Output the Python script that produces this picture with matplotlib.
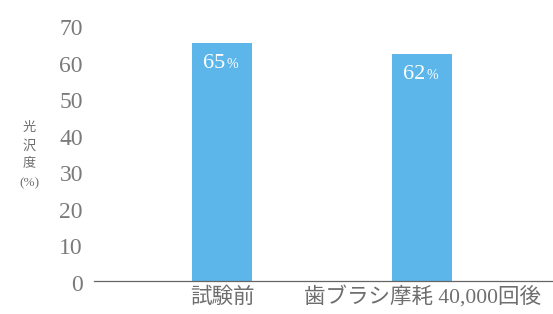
import matplotlib
matplotlib.use("Agg")
import matplotlib.pyplot as plt
import matplotlib.transforms as mtrans
import numpy as np

# data
categories = ["試験前", "歯ブラシ摩耗 40,000回後"]
gloss = [65, 62]
yticks = [0, 10, 20, 30, 40, 50, 60, 70]

fonts = ["Liberation Serif", "Noto Sans CJK JP", "DejaVu Sans"]
plt.rcParams["font.family"] = fonts
grey = "#6e6e6e"
tick_grey = "#7a7a7a"
bar_blue = "#5cb6e9"

W, H = 553, 314
fig = plt.figure(figsize=(W / 100, H / 100), dpi=100)
# axes from x=94..553 px, y=25..281 px
ax = fig.add_axes([94 / W, (H - 281) / H, (W - 94) / W, (281 - 25) / H])

x = np.arange(len(categories))
bars = ax.bar(x, gloss, width=0.3, color=bar_blue, zorder=2)

ax.set_xlim(-0.64, 1.655)
ax.set_ylim(0, 70)
ax.set_yticks(yticks)
ax.set_yticklabels([str(t) for t in yticks], fontsize=17, color=tick_grey)
ax.tick_params(axis="y", length=0, pad=8)
shift = mtrans.ScaledTranslation(0, -2 / 100, fig.dpi_scale_trans)
for lab in ax.get_yticklabels():
    lab.set_transform(lab.get_transform() + shift)
ax.set_xticks([])

for s in ["top", "right", "left"]:
    ax.spines[s].set_visible(False)
ax.spines["bottom"].set_color("#666666")
ax.spines["bottom"].set_linewidth(0.9)

# value labels inside bars
for xi, v in zip(x, gloss):
    ax.annotate(str(v), (xi, v), xytext=(2, -17.5), textcoords="offset points",
                ha="right", va="baseline", color="white", fontsize=16)
    ax.annotate("%", (xi, v), xytext=(3.5, -17.5), textcoords="offset points",
                ha="left", va="baseline", color="white", fontsize=10)

# category labels under the axis
for xi, c in zip(x, categories):
    ax.annotate(c, (xi, 0), xytext=(0, -12), textcoords="offset points",
                ha="center", va="center", color=grey, fontsize=15.5)

# stacked y label
for txt, yp in zip(["光", "沢", "度", "(%)"], [128, 146, 163, 183]):
    fig.text(29 / W, 1 - yp / H, txt, ha="center", va="center",
             color=grey, fontsize=9.5)

fig.savefig("out.png", dpi=100)
